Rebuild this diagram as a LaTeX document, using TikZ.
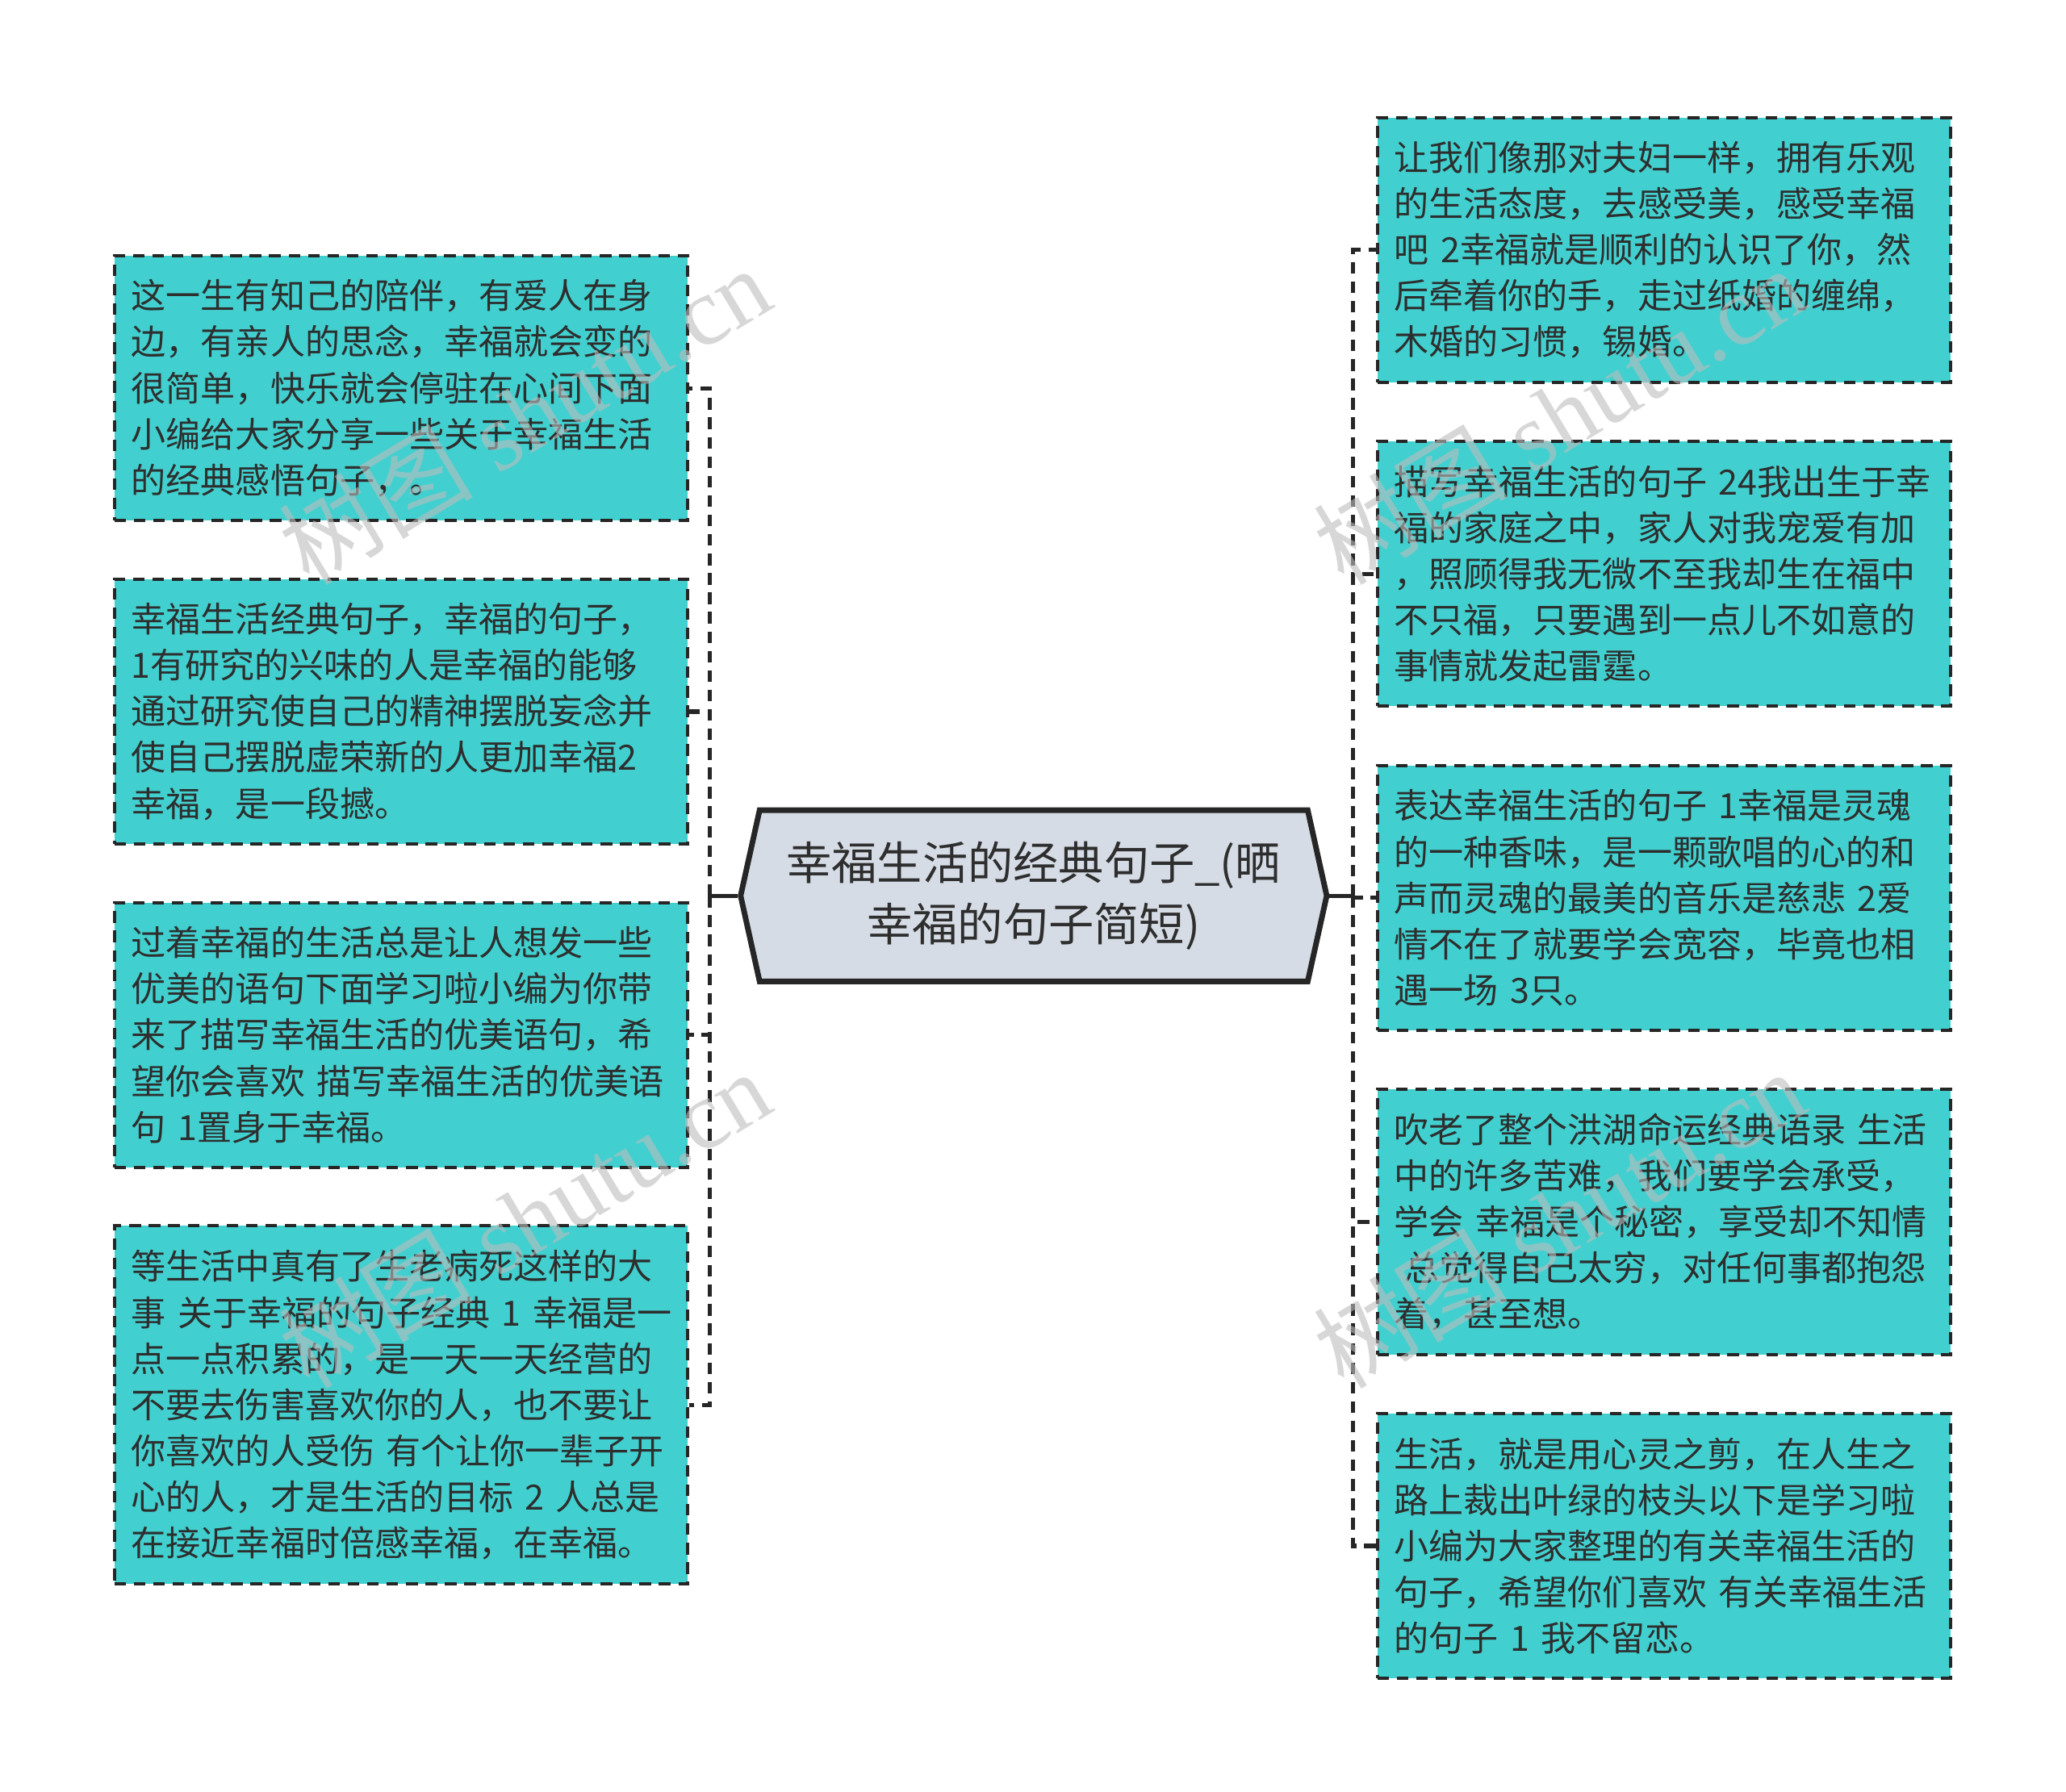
\documentclass[tikz,border=0pt]{standalone}
\usepackage{fontspec}
\usepackage{xcolor}
\usepackage{tikz}
\usetikzlibrary{positioning,shapes.symbols}
\setmainfont{Liberation Serif}
\newfontfamily\cjk{Noto Sans CJK SC}
\definecolor{BoxTeal}  {HTML}{41D0CF}
\definecolor{TitleFill}{HTML}{D6DCE5}
\definecolor{LineDark} {HTML}{262626}
\definecolor{TextDark} {HTML}{2E2E2E}
\definecolor{MarkGrey} {HTML}{BDBDBD}

\begin{document}
\begin{tikzpicture}[
  leaf/.style={fill=BoxTeal,draw=LineDark,line width=0.7pt,dash pattern=on 2.5pt off 1.7pt,
               text=TextDark,font=\cjk\fontsize{7.5pt}{9.96pt}\selectfont,
               text width=4.09cm,inner xsep=0.13cm,inner ysep=0pt,minimum height=2.01cm,align=left},
  title/.style={signal,signal to=west and east,signal pointer angle=155,
               fill=TitleFill,draw=LineDark,line width=1.2pt,text=TextDark,
               font=\cjk\fontsize{9.8pt}{13.1pt}\selectfont,
               text width=3.8cm,inner xsep=0.18cm,minimum height=1.30cm,align=center},
  link/.style={draw=LineDark,line width=0.9pt,dash pattern=on 2.5pt off 1.7pt},
  stem/.style={draw=LineDark,line width=0.9pt},
  wmtext/.style={rotate=31,text=MarkGrey,opacity=0.6,font=\fontsize{21pt}{21pt}\selectfont}
]
  \useasboundingbox (0,0) rectangle (15.68,-13.60);

  \node[title] (title) at (7.845,-6.80) {幸福生活的经典句子\_(晒\\幸福的句子简短)};

  \node[leaf, anchor=north east] (l1) at (5.23,-1.93)
    {这一生有知己的陪伴，有爱人在身\\边，有亲人的思念，幸福就会变的\\很简单，快乐就会停驻在心间下面\\小编给大家分享一些关于幸福生活\\的经典感悟句子，。};
  \node[leaf, below=0.42cm of l1] (l2)
    {幸福生活经典句子，幸福的句子，\\1有研究的兴味的人是幸福的能够\\通过研究使自己的精神摆脱妄念并\\使自己摆脱虚荣新的人更加幸福2\\幸福，是一段撼。};
  \node[leaf, below=0.42cm of l2] (l3)
    {过着幸福的生活总是让人想发一些\\优美的语句下面学习啦小编为你带\\来了描写幸福生活的优美语句，希\\望你会喜欢~描写幸福生活的优美语\\句~1置身于幸福。};
  \node[leaf, below=0.42cm of l3, minimum height=2.72cm] (l4)
    {等生活中真有了生老病死这样的大\\事~关于幸福的句子经典~1~幸福是一\\点一点积累的，是一天一天经营的\\不要去伤害喜欢你的人，也不要让\\你喜欢的人受伤~有个让你一辈子开\\心的人，才是生活的目标~2~人总是\\在接近幸福时倍感幸福，在幸福。};

  \node[leaf, anchor=north west] (r1) at (10.44,-0.88)
    {让我们像那对夫妇一样，拥有乐观\\的生活态度，去感受美，感受幸福\\吧~2幸福就是顺利的认识了你，然\\后牵着你的手，走过纸婚的缠绵，\\木婚的习惯，锡婚。};
  \node[leaf, below=0.425cm of r1] (r2)
    {描写幸福生活的句子~24我出生于幸\\福的家庭之中，家人对我宠爱有加\\，照顾得我无微不至我却生在福中\\不只福，只要遇到一点儿不如意的\\事情就发起雷霆。};
  \node[leaf, below=0.425cm of r2] (r3)
    {表达幸福生活的句子~1幸福是灵魂\\的一种香味，是一颗歌唱的心的和\\声而灵魂的最美的音乐是慈悲~2爱\\情不在了就要学会宽容，毕竟也相\\遇一场~3只。};
  \node[leaf, below=0.425cm of r3] (r4)
    {吹老了整个洪湖命运经典语录~生活\\中的许多苦难，我们要学会承受，\\学会~幸福是个秘密，享受却不知情\\\hspace*{0.3em}总觉得自己太穷，对任何事都抱怨\\着，甚至想。};
  \node[leaf, below=0.425cm of r4] (r5)
    {生活，就是用心灵之剪，在人生之\\路上裁出叶绿的枝头以下是学习啦\\小编为大家整理的有关幸福生活的\\句子，希望你们喜欢~有关幸福生活\\的句子~1~我不留恋。};

  \coordinate[left=0.21cm of title.west] (lhub);
  \coordinate[right=0.18cm of title.east] (rhub);

  \draw[stem] (title.west) -- (lhub); \draw[stem] (title.east) -- (rhub);
  \draw[link] (lhub) |- (l1.east); \draw[link] (lhub) |- (l2.east);
  \draw[link] (lhub) |- (l3.east); \draw[link] (lhub) |- (l4.east);
  \draw[link] (rhub) |- (r1.west); \draw[link] (rhub) |- (r2.west);
  \draw[link] (rhub) |- (r3.west); \draw[link] (rhub) |- (r4.west);
  \draw[link] (rhub) |- (r5.west);

  \node[wmtext] (wm1) at (3.98,-3.15) {{\cjk 树图} shutu.cn};
  \node[wmtext] (wm2) at (11.83,-3.15) {{\cjk 树图} shutu.cn};
  \node[wmtext] (wm3) at (3.98,-9.25) {{\cjk 树图} shutu.cn};
  \node[wmtext] (wm4) at (11.83,-9.25) {{\cjk 树图} shutu.cn};
\end{tikzpicture}
\end{document}
